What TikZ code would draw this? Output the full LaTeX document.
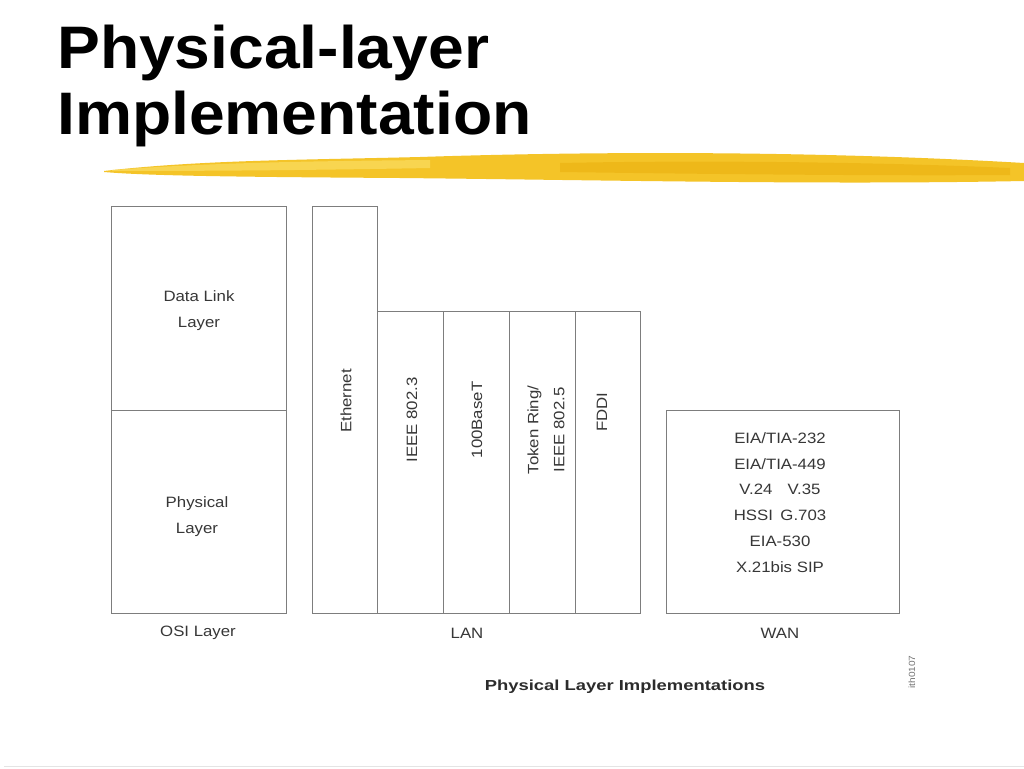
\documentclass[tikz,border=0pt]{standalone}
\usepackage{fontspec}
\usepackage{tikz}
\usetikzlibrary{positioning}
\setmainfont{Liberation Sans}
\newfontfamily\titlefont[FakeStretch=1.07]{Liberation Sans}
\newfontfamily\diagfont[FakeStretch=1.12]{Liberation Sans}
\newfontfamily\capfont[FakeStretch=1.27]{Liberation Sans}
\definecolor{linegray}{RGB}{125,125,125}
\definecolor{textgray}{RGB}{55,55,55}
\definecolor{brushgold}{RGB}{244,196,40}
\definecolor{brushlight}{RGB}{250,218,90}
\definecolor{brushdark}{RGB}{236,180,20}
\definecolor{rulegray}{RGB}{228,228,228}

\tikzset{
    cell/.style={draw=linegray, line width=0.9pt, inner sep=0pt, anchor=north west},
    lbl/.style={font=\diagfont\fontsize{15}{25.8}\selectfont, text=textgray, align=center, inner sep=0pt},
    vlbl/.style={lbl, rotate=90},
    headline/.style={font=\titlefont\bfseries\fontsize{60}{57}\selectfont, anchor=base west, inner sep=0pt}
}

\begin{document}
\begin{tikzpicture}[x=1pt, y=1pt]
        \useasboundingbox (0,0) rectangle (1024,-768);
        \fill[white] (0,0) rectangle (1024,-768);

        % title
        \node[headline] (title1) at (57,-68) {Physical-layer};
        \node[headline] (title2) at (57,-134) {Implementation};

        % brush stroke
        \fill[brushgold] (104,-171) .. controls (200,-160) and (300,-160) .. (420,-157)
            .. controls (600,-151) and (820,-151) .. (1024,-163) -- (1024,-181)
            .. controls (820,-185) and (600,-180) .. (400,-178)
            .. controls (250,-177) and (150,-176) .. (104,-172) -- cycle;
        \fill[brushlight, opacity=0.8] (112,-170) .. controls (220,-162) and (330,-161) .. (430,-160)
            -- (430,-168) .. controls (320,-170) and (220,-171) .. (112,-171) -- cycle;
        \fill[brushdark, opacity=0.7] (560,-163) .. controls (700,-160) and (880,-162) .. (1010,-168)
            -- (1010,-175) .. controls (880,-176) and (700,-174) .. (560,-172) -- cycle;

        % OSI column
        \node[cell, minimum width=175, minimum height=204] (dll) at (111,-206) {};
        \node[cell, minimum width=175, minimum height=203] (phy) at (111,-410) {};
        \node[lbl] (dlltxt) at (199,-311) {Data Link\\Layer};
        \node[lbl] (phytxt) at (197,-517) {Physical\\Layer};
        \node[lbl] (osi) at (198,-633) {OSI Layer};

        % LAN columns
        \node[cell, minimum width=65, minimum height=407] (eth) at (312,-206) {};
        \node[cell, minimum width=66, minimum height=302] (ieee3) at (377,-311) {};
        \node[cell, minimum width=66, minimum height=302] (base) at (443,-311) {};
        \node[cell, minimum width=66, minimum height=302] (token) at (509,-311) {};
        \node[cell, minimum width=65, minimum height=302] (fddi) at (575,-311) {};
        \node[vlbl] (ethtxt) at (346,-401) {Ethernet};
        \node[vlbl] (ieee3txt) at (412,-420) {IEEE 802.3};
        \node[vlbl] (basetxt) at (477,-420) {100BaseT};
        \node[vlbl] (tokentxt) at (546,-430) {Token Ring/\\IEEE 802.5};
        \node[vlbl] (fdditxt) at (602,-412) {FDDI};
        \node[lbl] (lan) at (467,-633) {LAN};

        % WAN column
        \node[cell, minimum width=233, minimum height=203] (wan) at (666,-410) {};
        \node[lbl] (wantxt) at (780,-502.5) {EIA/TIA-232\\EIA/TIA-449\\V.24\quad V.35\\HSSI\enspace G.703\\EIA-530\\X.21bis SIP};
        \node[lbl] (wanlbl) at (780,-633) {WAN};

        % caption
        \node[font=\capfont\bfseries\fontsize{14.5}{17}\selectfont, text=textgray!80!black, inner sep=0pt] (caption) at (625,-687) {Physical Layer Implementations};
        \node[font=\diagfont\fontsize{9}{10}\selectfont, text=textgray!70, rotate=90, inner sep=0pt] (figid) at (912,-672) {ith0107};

        % bottom rule
        \draw[rulegray, line width=1pt] (4,-766.5) -- (1024,-766.5);
    \end{tikzpicture}
\end{document}
